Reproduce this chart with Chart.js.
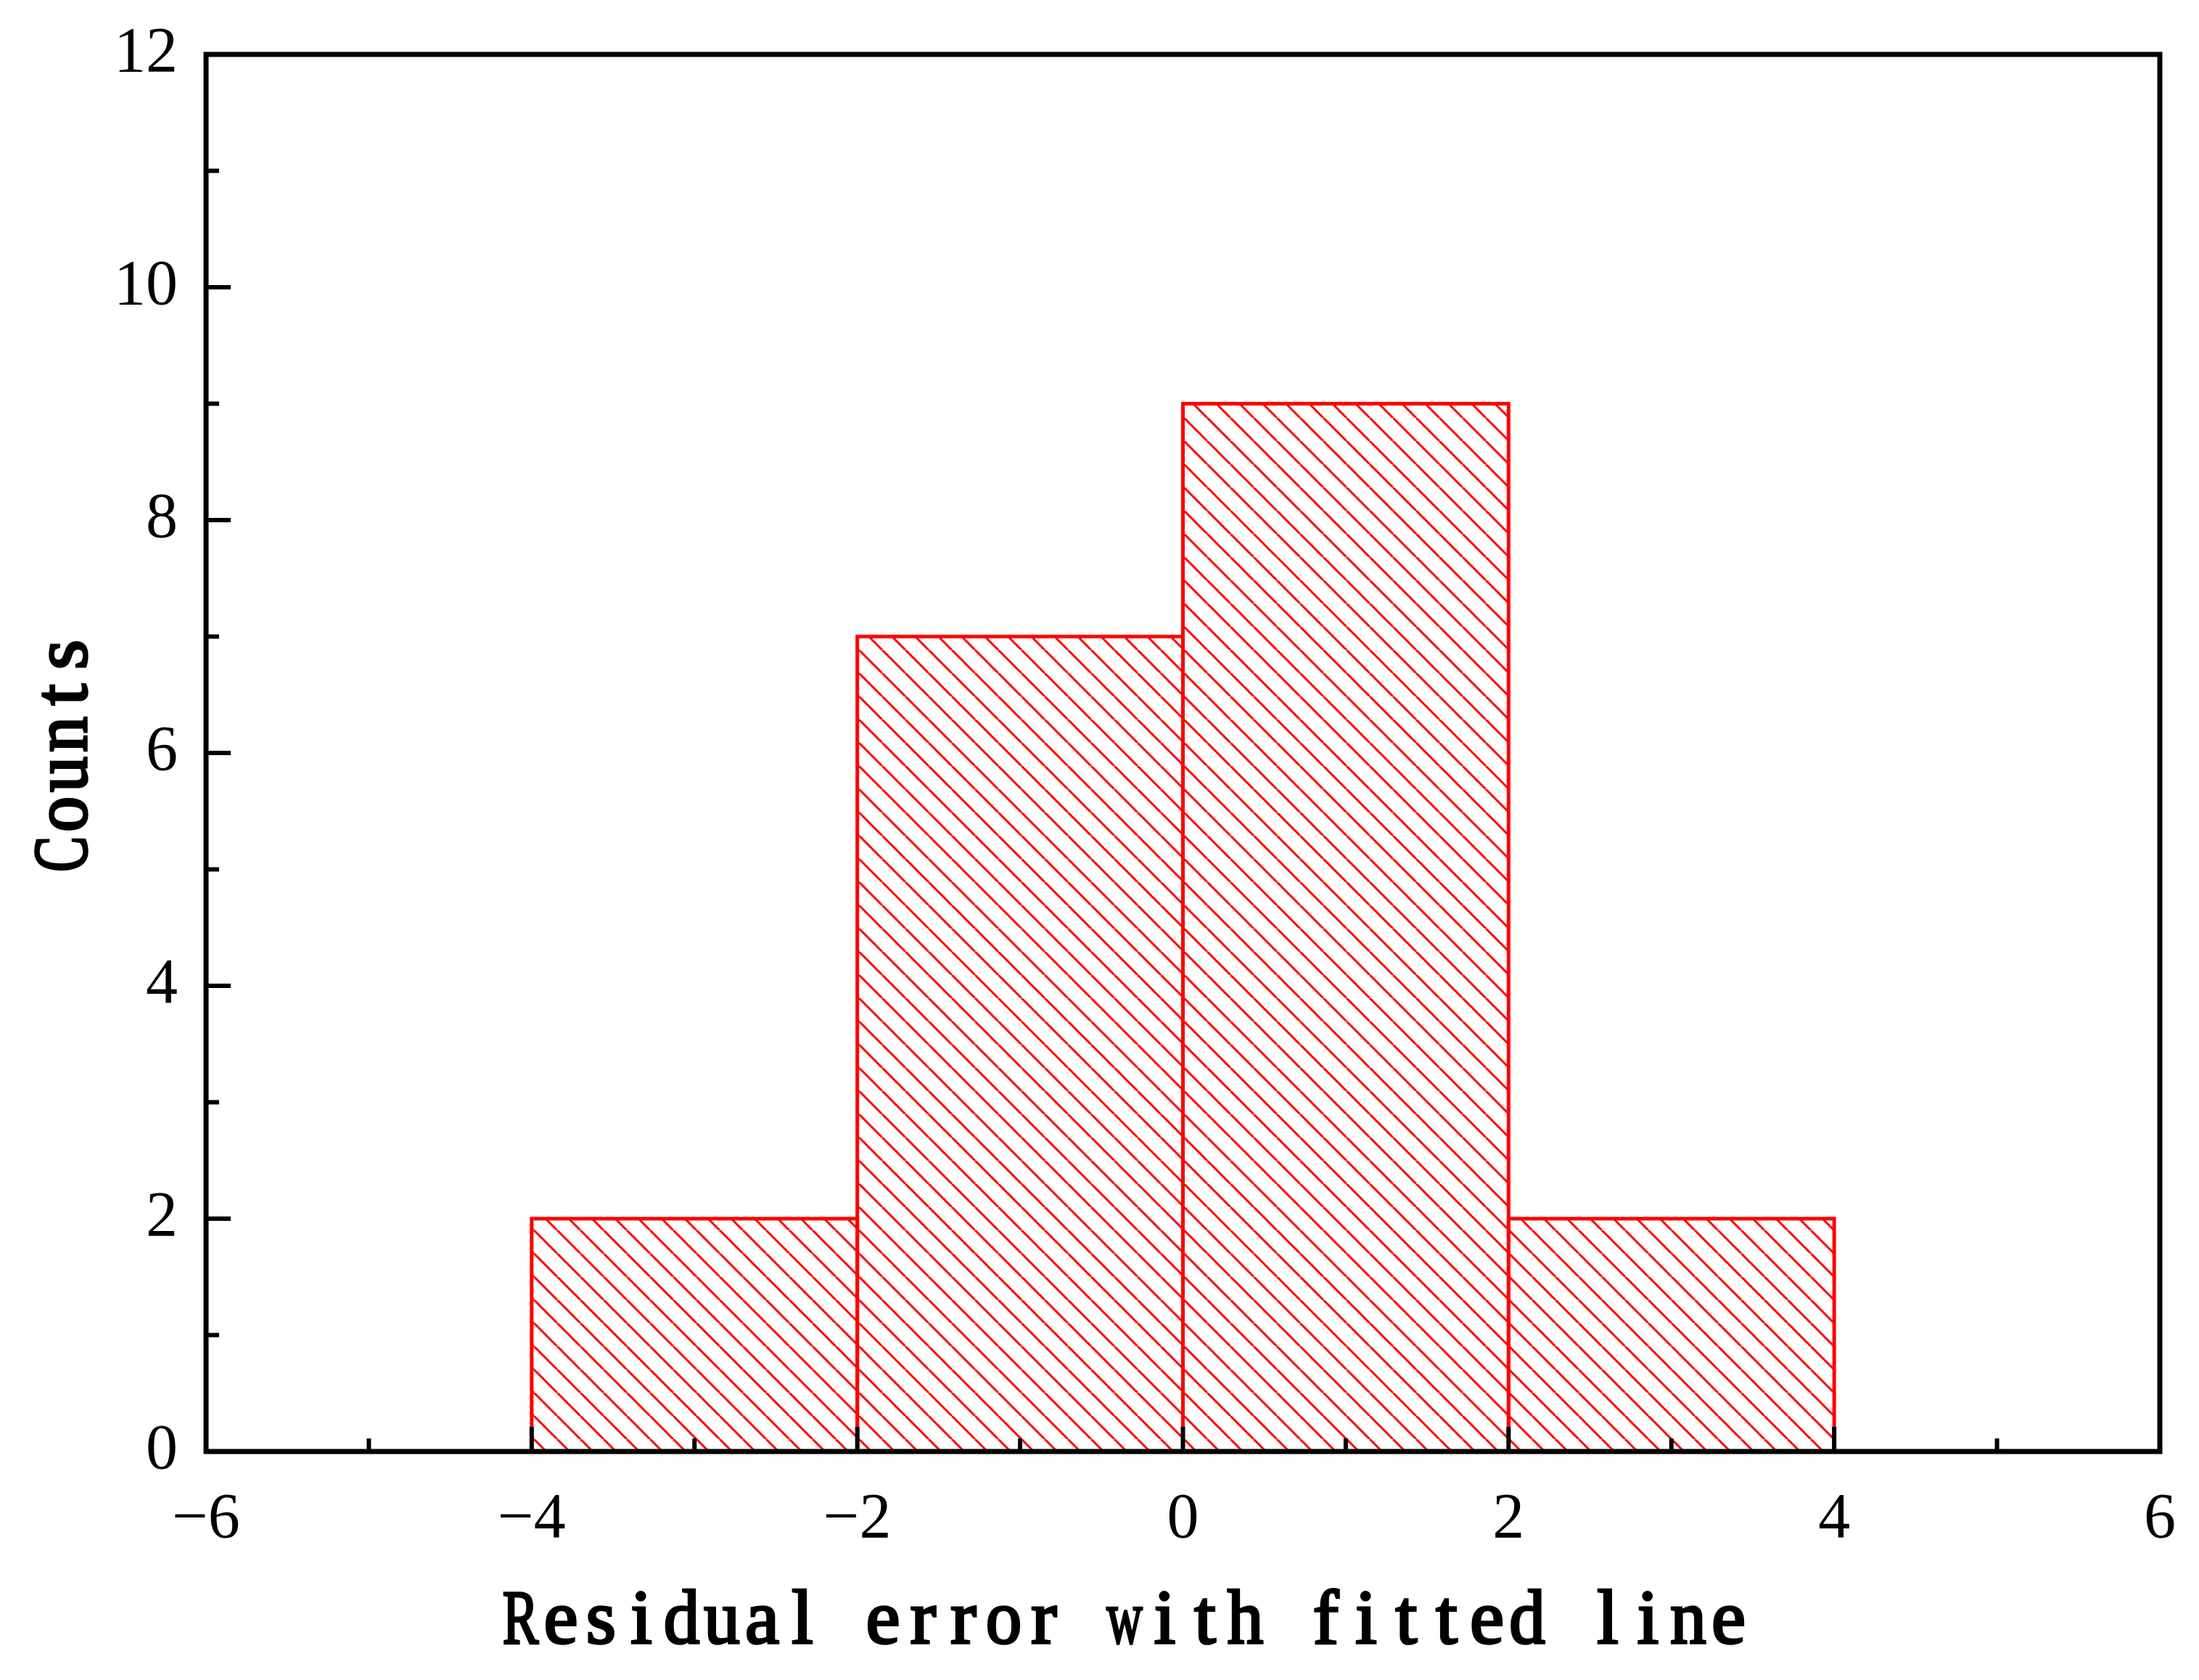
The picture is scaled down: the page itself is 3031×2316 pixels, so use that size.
<!DOCTYPE html>
<html>
<head>
<meta charset="utf-8">
<script src="https://cdn.jsdelivr.net/npm/chart.js@4.4.0/dist/chart.umd.min.js"></script>
<style>
  html, body { margin: 0; padding: 0; background: #fff; }
</style>
</head>
<body>
<canvas id="hist" width="3031" height="2316"></canvas>
<script>
// histogram bins and counts
const binStarts = [-4, -2, 0, 2];
const binEnds = [-2, 0, 2, 4];
const counts = [2, 7, 9, 2];

// axis ticks
const xTicks = [-6, -4, -2, 0, 2, 4, 6];
const xMinor = [-5, -3, -1, 1, 3, 5];
const yTicks = [0, 2, 4, 6, 8, 10, 12];
const yMinor = [1, 3, 5, 7, 9, 11];

const xTitle = 'Residual error with fitted line';
const yTitle = 'Counts';

// diagonal "\" hatch
function hatch() {
  const s = 32;
  const c = document.createElement('canvas');
  c.width = s; c.height = s;
  const g = c.getContext('2d');
  g.strokeStyle = '#ff0000';
  g.lineWidth = 3;
  g.beginPath();
  [-s, 0, s].forEach(k => {
    g.moveTo(k, 0);
    g.lineTo(k + s, s);
  });
  g.stroke();
  return g.createPattern(c, 'repeat');
}

const minus = v => (v < 0 ? '\u2212' + Math.abs(v) : String(v));

const framePlugin = {
  id: 'frame',
  afterDatasetsDraw(chart) {
    const { ctx, chartArea: a, scales: { x, y } } = chart;
    ctx.save();

    // bar outlines, centred on the edges so neighbours share one line
    ctx.strokeStyle = '#ff0000';
    ctx.lineWidth = 5;
    chart.getDatasetMeta(0).data.forEach(bar => {
      const p = bar.getProps(['x', 'y', 'base', 'width'], true);
      ctx.strokeRect(p.x - p.width / 2, p.y, p.width, p.base - p.y);
    });

    // inward ticks
    ctx.strokeStyle = '#000';
    ctx.lineWidth = 6;
    ctx.beginPath();
    const tx = (v, len) => {
      const px = x.getPixelForValue(v);
      ctx.moveTo(px, a.bottom);
      ctx.lineTo(px, a.bottom - len);
    };
    const ty = (v, len) => {
      const py = y.getPixelForValue(v);
      ctx.moveTo(a.left, py);
      ctx.lineTo(a.left + len, py);
    };
    xTicks.forEach(v => tx(v, 34));
    xMinor.forEach(v => tx(v, 18));
    yTicks.forEach(v => ty(v, 34));
    yMinor.forEach(v => ty(v, 18));
    ctx.stroke();

    // box
    ctx.lineWidth = 7;
    ctx.strokeRect(a.left, a.top, a.width, a.height);
    ctx.restore();
  }
};

// fixed-pitch serif text, like the original's monospaced title font
function drawMono(ctx, text, cx, base, pitch) {
  const start = cx - (text.length * pitch) / 2;
  [...text].forEach((ch, i) => {
    if (ch === ' ') return;
    const w = ctx.measureText(ch).width;
    const sx = Math.min(1, (pitch - 6) / w);
    ctx.save();
    ctx.translate(start + i * pitch + pitch / 2, base);
    ctx.scale(sx, 1);
    ctx.strokeText(ch, 0, 0);
    ctx.fillText(ch, 0, 0);
    ctx.restore();
  });
}

const titlePlugin = {
  id: 'axisTitles',
  afterDraw(chart) {
    const { ctx } = chart;
    ctx.save();
    ctx.fillStyle = '#000';
    ctx.strokeStyle = '#000';
    ctx.lineWidth = 3.5;
    ctx.font = '106px "Liberation Serif"';
    ctx.textAlign = 'center';
    ctx.textBaseline = 'alphabetic';

    drawMono(ctx, xTitle, 1550, 2265, 55.5);

    ctx.save();
    ctx.translate(119, 1040);
    ctx.rotate(-Math.PI / 2);
    drawMono(ctx, yTitle, 0, 0, 55);
    ctx.restore();

    ctx.restore();
  }
};

new Chart(document.getElementById('hist'), {
  type: 'bar',
  data: {
    datasets: [{
      data: binStarts.map((b, i) => ({ x: (b + binEnds[i]) / 2, y: counts[i] })),
      backgroundColor: hatch(),
      borderWidth: 0,
      barPercentage: 1,
      categoryPercentage: 1
    }]
  },
  options: {
    responsive: false,
    devicePixelRatio: 1,
    animation: false,
    layout: { padding: { left: 0, right: 54, top: 75, bottom: 0 } },
    plugins: { legend: { display: false }, tooltip: { enabled: false } },
    scales: {
      x: {
        type: 'linear',
        min: -6,
        max: 6,
        offset: false,
        afterBuildTicks: s => { s.ticks = xTicks.map(v => ({ value: v })); },
        afterFit: s => {
          s.height = 315;
          s.paddingLeft = 0;
          s.paddingRight = 0;
        },
        grid: { display: false, drawTicks: false, offset: false },
        border: { display: false },
        ticks: {
          padding: 42,
          color: '#000',
          maxRotation: 0,
          font: { family: 'Liberation Serif', size: 88 },
          callback: v => minus(v)
        }
      },
      y: {
        min: 0,
        max: 12,
        afterBuildTicks: s => { s.ticks = yTicks.map(v => ({ value: v })); },
        afterFit: s => {
          s.width = 284;
          s.paddingTop = 0;
          s.paddingBottom = 0;
        },
        grid: { display: false, drawTicks: false },
        border: { display: false },
        ticks: {
          padding: 39,
          color: '#000',
          font: { family: 'Liberation Serif', size: 88 },
          callback: v => minus(v)
        }
      }
    }
  },
  plugins: [framePlugin, titlePlugin]
});
</script>
</body>
</html>
